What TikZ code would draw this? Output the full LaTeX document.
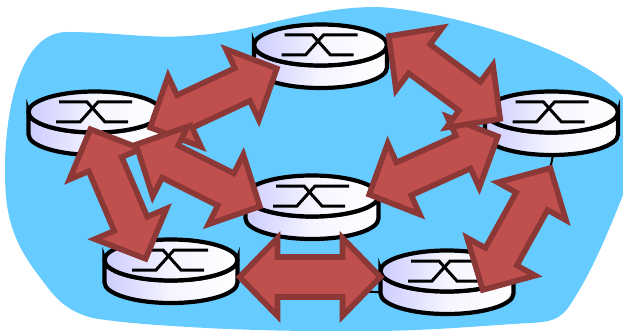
\documentclass[tikz,border=0pt]{standalone}
\usetikzlibrary{calc}
\definecolor{cloudblue}{HTML}{66CCFF}
\definecolor{routerblue}{HTML}{CCCCFF}
\definecolor{arrowfill}{HTML}{C0504D}
\definecolor{arrowline}{HTML}{8C3836}
\tikzset{
  cloudshape/.style={fill=cloudblue,draw=none},
  routerpart/.style={draw=black,line width=4.2pt,left color=routerblue,right color=white,middle color=routerblue!20!white},
  switchline/.style={draw=black,line width=3pt,line join=miter},
  linkline/.style={draw=black,line width=2pt},
  blockarrowstyle/.style={draw=arrowline,fill=arrowfill,line width=5.6pt,line join=miter,miter limit=10},
  anchorpoint/.style={inner sep=0pt,minimum size=0pt}
}
\newcommand{\routerat}[3]{%
  \node[anchorpoint] (#1) at (#2,#3) {};
  \path[routerpart] ($(#1)+(-66.5,0)$) -- ($(#1)+(-66.5,22.5)$) arc[start angle=180,end angle=360,x radius=66.5,y radius=-20.5] -- ($(#1)+(66.5,0)$) arc[start angle=0,end angle=180,x radius=66.5,y radius=20.5] -- cycle;
  \path[routerpart] (#1) ellipse[x radius=66.5,y radius=20.5];
  \draw[switchline] ($(#1)+(-36,-10)$) -- ($(#1)+(-8,-10)$) -- ($(#1)+(10,10)$) -- ($(#1)+(33,10)$);
  \draw[switchline] ($(#1)+(-39,10)$) -- ($(#1)+(-15,10)$) -- ($(#1)+(3,-10)$) -- ($(#1)+(37,-10)$);
}
% #1 shaft half width, #2 and #3 named tips
\newcommand{\blockarrowbetween}[3][18]{%
  \path ($(#2)!3.5pt!(#3)$) coordinate (p) ($(#3)!3.5pt!(#2)$) coordinate (q);
  \draw[blockarrowstyle] (p)
    -- ($(p)!38pt!(q)!39pt!90:(q)$)
    -- ($(p)!38pt!(q)!#1pt!90:(q)$)
    -- ($(q)!38pt!(p)!#1pt!-90:(p)$)
    -- ($(q)!38pt!(p)!39pt!-90:(p)$)
    -- (q)
    -- ($(q)!38pt!(p)!39pt!90:(p)$)
    -- ($(q)!38pt!(p)!#1pt!90:(p)$)
    -- ($(p)!38pt!(q)!#1pt!-90:(q)$)
    -- ($(p)!38pt!(q)!39pt!-90:(q)$)
    -- cycle;
}
\begin{document}
\begin{tikzpicture}[x=1pt,y=-1pt]
\useasboundingbox (0,0) rectangle (623,331);
\path[cloudshape] (5,170) .. controls (5,110) and (20,32) .. (67,32)
  .. controls (120,32) and (150,40) .. (200,35)
  .. controls (260,30) and (310,7) .. (377,7)
  .. controls (445,10) and (585,50) .. (623,97)
  -- (623,195)
  .. controls (605,240) and (590,275) .. (570,305)
  .. controls (560,320) and (550,322) .. (530,323)
  .. controls (490,325) and (430,331) .. (370,331)
  -- (320,331)
  .. controls (240,331) and (130,325) .. (93,318)
  .. controls (60,310) and (50,290) .. (33,268)
  .. controls (10,235) and (5,210) .. (5,170) -- cycle;
% hidden links
\coordinate (stub) at (550,170);
\coordinate (linkfree) at (350,291);
\node[anchorpoint] (R6c) at (447,295) {};
\node[anchorpoint] (R3c) at (554,150) {};
\draw[linkline] (linkfree) -- (R6c);
\draw[linkline] (R3c) -- (stub) -- (R6c);
% routers
\routerat{R1}{320.5}{45}
\routerat{R2}{95}{112}
\routerat{R3}{551.5}{112}
\routerat{R4}{312}{196}
\routerat{R5}{171}{260}
\routerat{R6}{447}{271}
% arrow tips
\coordinate (a1) at (280,67);   \coordinate (b1) at (147,129);
\coordinate (a2) at (386,34);   \coordinate (b2) at (503,121);
\coordinate (a3) at (501,135);  \coordinate (b3) at (366,196);
\coordinate (a4) at (552,165);  \coordinate (b4) at (481,293);
\coordinate (a5) at (236,277);  \coordinate (b5) at (384,277);
\coordinate (a6) at (89,126);   \coordinate (b6) at (147,262);
\coordinate (a7) at (133,143);  \coordinate (b7) at (263,208);
\blockarrowbetween{a1}{b1}
\blockarrowbetween{a3}{b3}
\blockarrowbetween{a2}{b2}
\blockarrowbetween{a4}{b4}
\blockarrowbetween[20]{a5}{b5}
\blockarrowbetween{a6}{b6}
\blockarrowbetween{a7}{b7}
\end{tikzpicture}
\end{document}
